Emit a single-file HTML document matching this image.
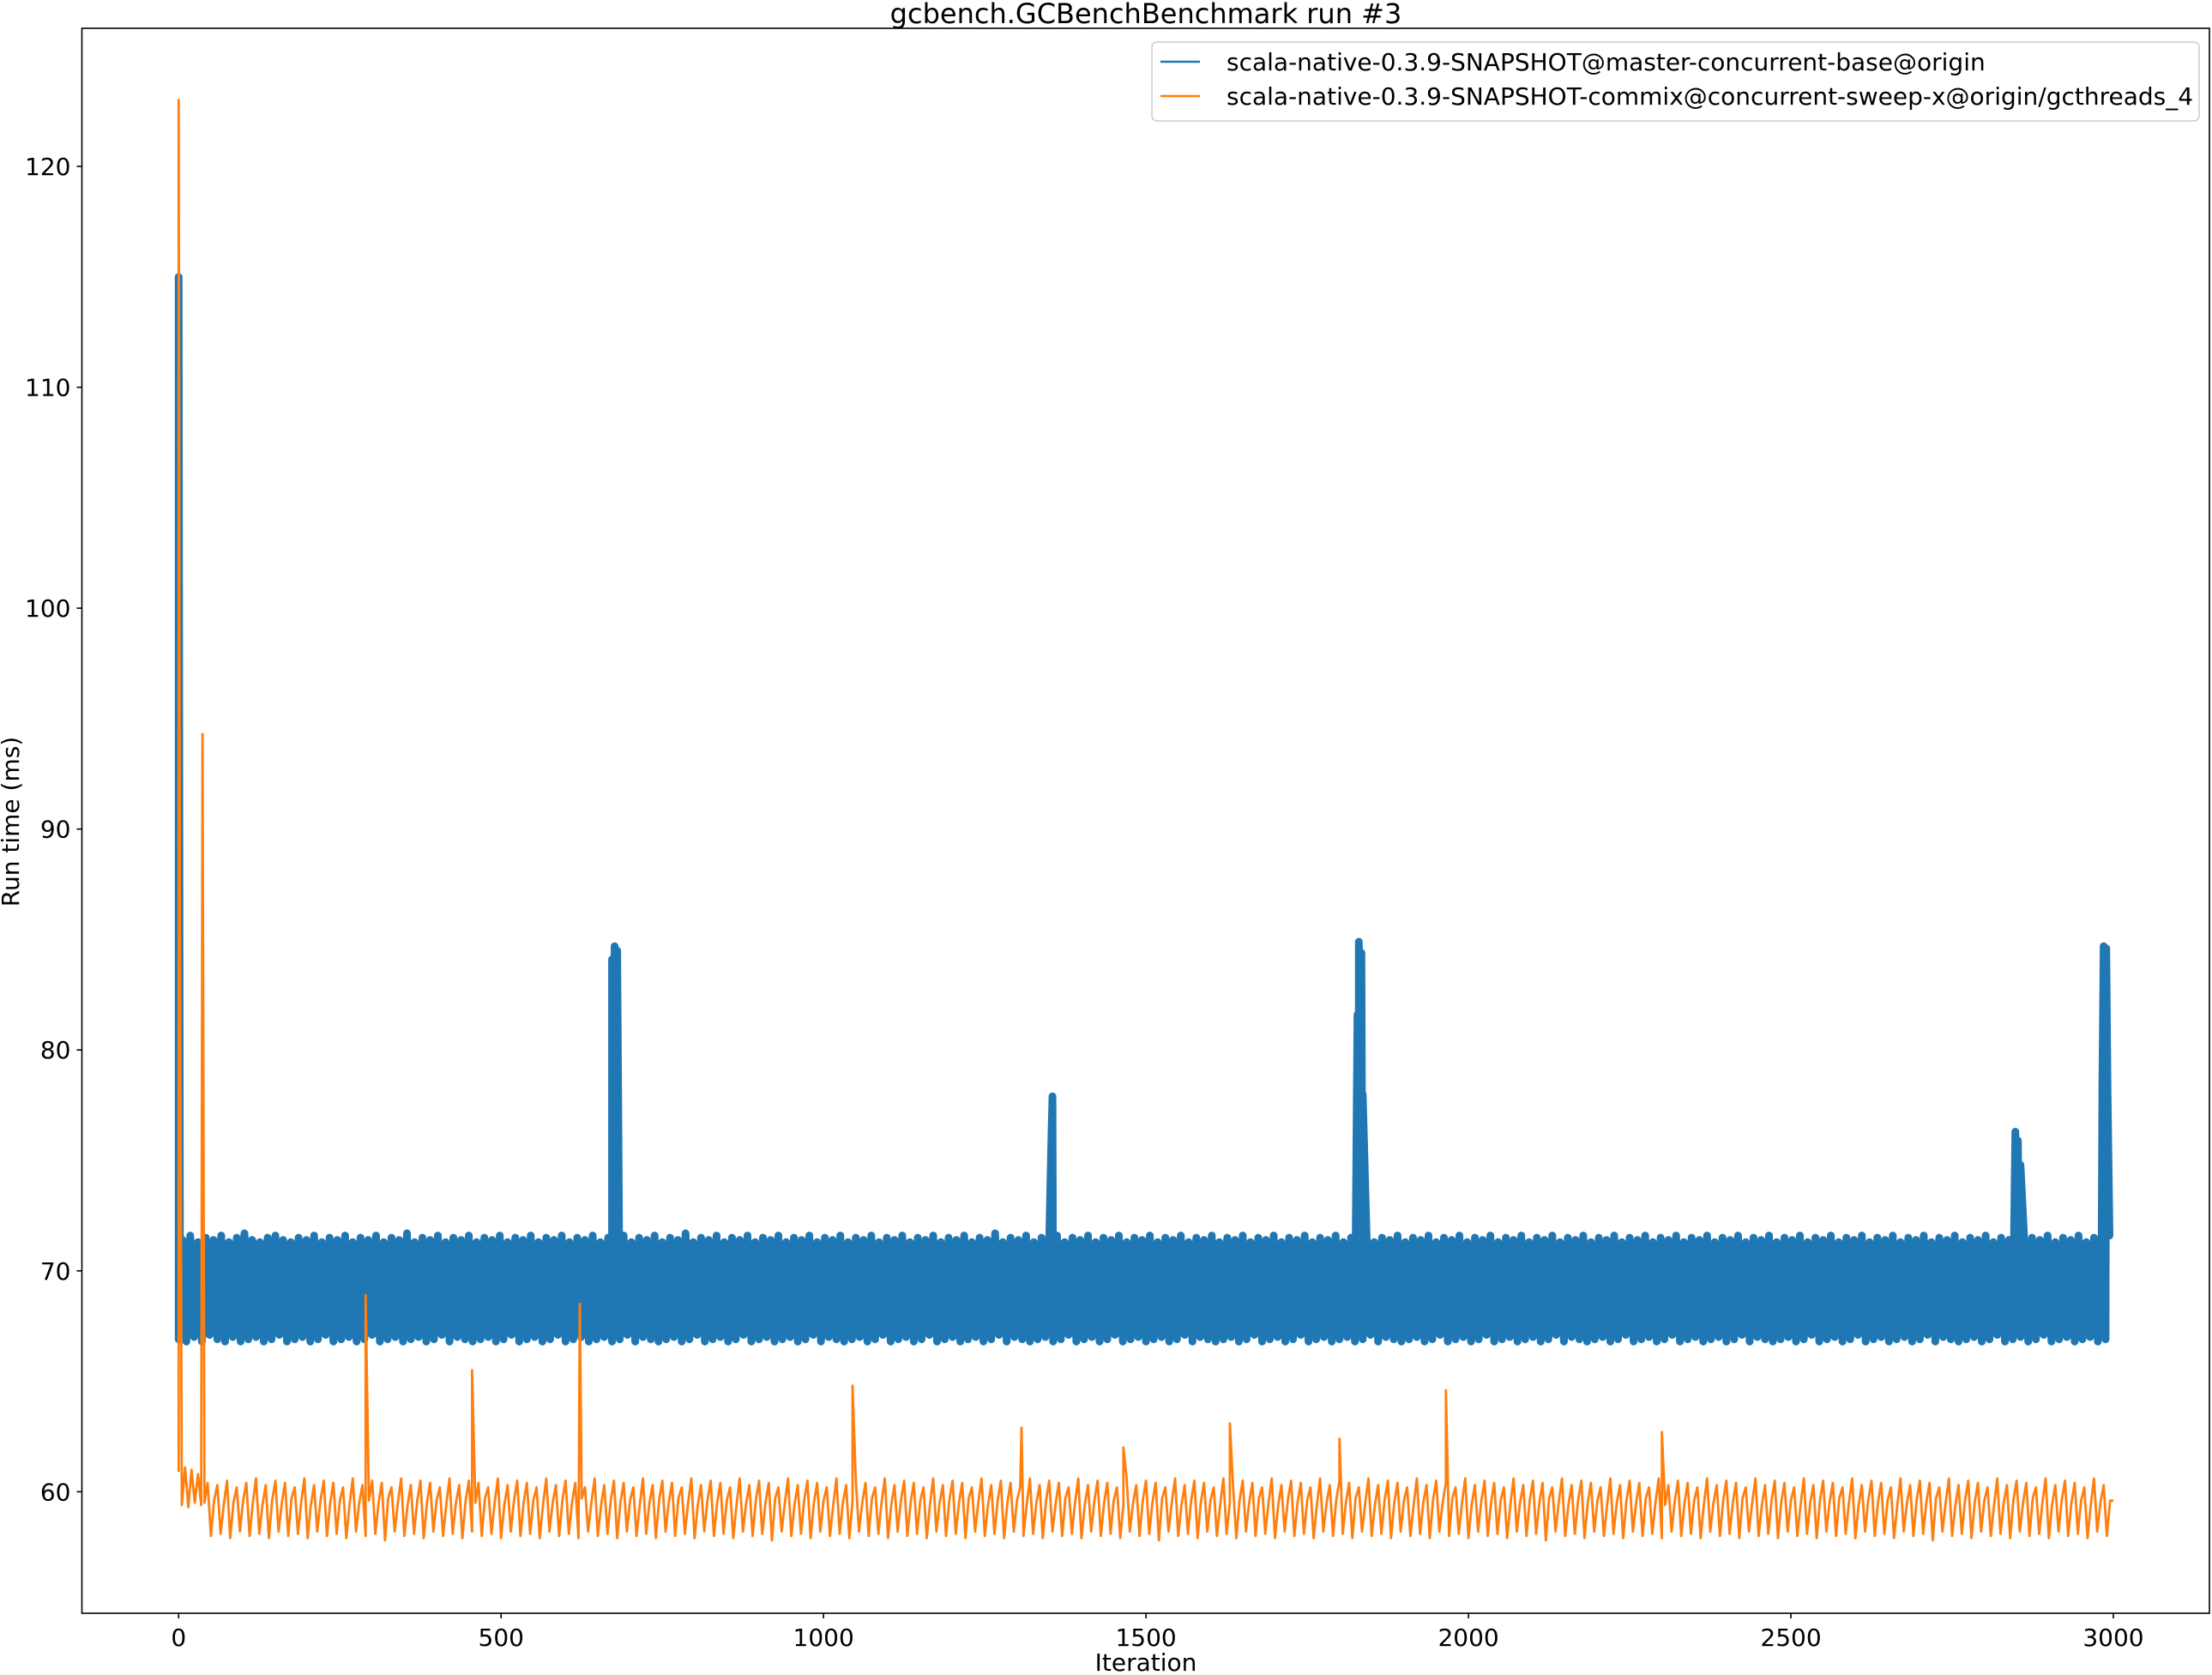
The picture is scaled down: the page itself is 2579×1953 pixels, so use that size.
<!DOCTYPE html>
<html><head><meta charset="utf-8"><style>
html,body{margin:0;padding:0;background:#fff;}
svg{display:block;font-family:"DejaVu Sans","Liberation Sans",sans-serif;}
</style></head><body>
<svg id="chart" width="2579" height="1953" viewBox="0 0 2579 1953"></svg>
<script>
const xTicks=[0,500,1000,1500,2000,2500,3000];
const yTicks=[60,70,80,90,100,110,120];
const seriesNames=["scala-native-0.3.9-SNAPSHOT@master-concurrent-base@origin","scala-native-0.3.9-SNAPSHOT-commix@concurrent-sweep-x@origin/gcthreads_4"];
const blueStep=6;
const blueVals=[
66.9,71.4,66.8,71.6,67.0,71.3,66.8,71.5,67.1,71.4,66.9,71.6,66.8,71.3,67.0,71.5,66.8,71.7,66.9,71.4,
67.0,71.3,66.8,71.5,66.9,71.6,67.1,71.4,66.8,71.3,66.9,71.5,67.0,71.4,66.8,71.6,66.9,71.3,67.1,71.5,
66.8,71.4,66.9,71.6,67.0,71.3,66.8,71.5,66.9,71.4,67.1,71.6,66.8,71.3,66.9,71.5,67.0,71.4,66.8,71.7,
66.9,71.3,67.0,71.5,66.8,71.4,66.9,71.6,67.1,71.3,66.8,71.5,67.0,71.4,66.9,71.6,66.8,71.3,66.9,71.5,
67.0,71.4,66.8,71.6,66.9,71.3,67.1,71.5,66.8,71.4,66.9,71.6,67.0,71.3,66.8,71.5,66.9,71.4,67.1,71.6,
66.8,71.3,66.9,71.5,67.0,71.4,66.8,71.6,66.9,71.3,67.0,71.5,66.8,71.4,66.9,71.6,67.1,71.3,66.8,71.5,
67.0,71.4,66.9,71.6,66.8,71.3,66.9,71.5,67.0,71.4,66.8,71.7,66.9,71.3,67.1,71.5,66.8,71.4,66.9,71.6,
67.0,71.3,66.8,71.5,66.9,71.4,67.1,71.6,66.8,71.3,66.9,71.5,67.0,71.4,66.8,71.6,66.9,71.3,67.0,71.5,
66.8,71.4,66.9,71.6,67.1,71.3,66.8,71.5,67.0,71.4,66.9,71.6,66.8,71.3,66.9,71.5,67.0,71.4,66.8,71.6,
66.9,71.3,67.1,71.5,66.8,71.4,66.9,71.6,67.0,71.3,66.8,71.5,66.9,71.4,67.1,71.6,66.8,71.3,66.9,71.5,
67.0,71.4,66.8,71.6,66.9,71.3,67.0,71.5,66.8,71.4,66.9,71.7,67.1,71.3,66.8,71.5,67.0,71.4,66.9,71.6,
66.8,71.3,66.9,71.5,67.0,71.4,66.8,71.6,66.9,71.3,67.1,71.5,66.8,71.4,66.9,71.6,67.0,71.3,66.8,71.5,
66.9,71.4,67.1,71.6,66.8,71.3,66.9,71.5,67.0,71.4,66.8,71.6,66.9,71.3,67.0,71.5,66.8,71.4,66.9,71.6,
67.1,71.3,66.8,71.5,67.0,71.4,66.9,71.6,66.8,71.3,66.9,71.5,67.0,71.4,66.8,71.6,66.9,71.3,67.1,71.5,
66.8,71.4,66.9,71.6,67.0,71.3,66.8,71.5,66.9,71.4,67.1,71.6,66.8,71.3,66.9,71.5,67.0,71.4,66.8,71.6,
66.9,71.3,67.0,71.5,66.8,71.4,66.9,71.6,67.1,71.3,66.8,71.5,67.0,71.4,66.9,71.6,66.8,71.3,66.9,71.5,
67.0,71.4,66.8,71.6,66.9,71.3,67.1,71.5,66.8,71.4,66.9,71.6,67.0,71.3,66.8,71.5,66.9,71.4,67.1,71.6,
66.8,71.3,66.9,71.5,67.0,71.4,66.8,71.6,66.9,71.3,67.0,71.5,66.8,71.4,66.9,71.6,67.1,71.3,66.8,71.5,
67.0,71.4,66.9,71.6,66.8,71.3,66.9,71.5,67.0,71.4,66.8,71.6,66.9,71.3,67.1,71.5,66.8,71.4,66.9,71.6,
67.0,71.3,66.8,71.5,66.9,71.4,67.1,71.6,66.8,71.3,66.9,71.5,67.0,71.4,66.8,71.6,66.9,71.3,67.0,71.5,
66.8,71.4,66.9,71.6,67.1,71.3,66.8,71.5,67.0,71.4,66.9,71.6,66.8,71.3,66.9,71.5,67.0,71.4,66.8,71.6,
66.9,71.3,67.1,71.5,66.8,71.4,66.9,71.6,67.0,71.3,66.8,71.5,66.9,71.4,67.1,71.6,66.8,71.3,66.9,71.5,
67.0,71.4,66.8,71.6,66.9,71.3,67.0,71.5,66.8,71.4,66.9,71.6,67.1,71.3,66.8,71.5,67.0,71.4,66.9,71.6,
66.8,71.3,66.9,71.5,67.0,71.4,66.8,71.6,66.9,71.3,67.1,71.5,66.8,71.4,66.9,71.6,67.0,71.3,66.8,71.5,
66.9,71.4,67.1,71.6,66.8,71.3,66.9,71.5,67.0,71.4,66.8,71.6,66.9,71.3,67.0,71.5,66.8,71.4,66.9,71.6
];
const blueSpikeIter=[0,2,672,674,676,678,680,1353,1355,1357,1828,1830,1832,1834,1836,2848,2850,2852,2854,2856,2983,2985,2987,2989,2991];
const blueSpikeVal=[115,70,84.1,78.5,84.7,78.2,84.5,75.6,77.9,67.7,81.6,84.9,78.3,84.4,78.0,76.3,69.5,75.9,68.8,74.8,78.4,84.7,78.6,84.6,78.1];
const orangeStep=5;
const orangeVals=[
60.9,59.4,61.1,59.3,61.0,59.5,60.8,59.4,
59.5,60.4,58.0,59.6,60.3,58.1,59.4,60.5,57.9,59.5,60.2,58.2,59.6,60.4,58.0,59.5,60.6,58.1,59.4,60.3,57.9,59.6,60.5,58.2,
59.5,60.4,58.0,59.7,60.2,58.1,59.5,60.6,57.9,59.4,60.3,58.2,59.6,60.5,58.0,59.5,60.4,58.1,59.6,60.2,57.9,59.4,60.6,58.2,
59.5,60.3,58.0,59.6,60.5,58.1,59.5,60.4,57.8,59.7,60.2,58.2,59.5,60.6,58.0,59.4,60.3,58.1,59.6,60.5,57.9,59.5,60.4,58.2,
59.6,60.2,58.0,59.4,60.6,58.1,59.5,60.3,57.9,59.6,60.5,58.2,59.5,60.4,58.0,59.7,60.2,58.1,59.5,60.6,57.9,59.4,60.3,58.2,
59.6,60.5,58.0,59.5,60.4,58.1,59.6,60.2,57.9,59.4,60.6,58.2,59.5,60.3,58.0,59.6,60.5,58.1,59.5,60.4,57.9,59.7,60.2,58.2,
59.5,60.6,58.0,59.4,60.3,58.1,59.6,60.5,57.9,59.5,60.4,58.2,59.6,60.2,58.0,59.4,60.6,58.1,59.5,60.3,57.9,59.6,60.5,58.2,
59.5,60.4,58.0,59.7,60.2,58.1,59.5,60.6,57.9,59.4,60.3,58.2,59.6,60.5,58.0,59.5,60.4,58.1,59.6,60.2,57.9,59.4,60.6,58.2,
59.5,60.3,58.0,59.6,60.5,58.1,59.5,60.4,57.8,59.7,60.2,58.2,59.5,60.6,58.0,59.4,60.3,58.1,59.6,60.5,57.9,59.5,60.4,58.2,
59.6,60.2,58.0,59.4,60.6,58.1,59.5,60.3,57.9,59.6,60.5,58.2,59.5,60.4,58.0,59.7,60.2,58.1,59.5,60.6,57.9,59.4,60.3,58.2,
59.6,60.5,58.0,59.5,60.4,58.1,59.6,60.2,57.9,59.4,60.6,58.2,59.5,60.3,58.0,59.6,60.5,58.1,59.5,60.4,57.9,59.7,60.2,58.2,
59.5,60.6,58.0,59.4,60.3,58.1,59.6,60.5,57.9,59.5,60.4,58.2,59.6,60.2,58.0,59.4,60.6,58.1,59.5,60.3,57.9,59.6,60.5,58.2,
59.5,60.4,58.0,59.7,60.2,58.1,59.5,60.6,57.9,59.4,60.3,58.2,59.6,60.5,58.0,59.5,60.4,58.1,59.6,60.2,57.9,59.4,60.6,58.2,
59.5,60.3,58.0,59.6,60.5,58.1,59.5,60.4,57.8,59.7,60.2,58.2,59.5,60.6,58.0,59.4,60.3,58.1,59.6,60.5,57.9,59.5,60.4,58.2,
59.6,60.2,58.0,59.4,60.6,58.1,59.5,60.3,57.9,59.6,60.5,58.2,59.5,60.4,58.0,59.7,60.2,58.1,59.5,60.6,57.9,59.4,60.3,58.2,
59.6,60.5,58.0,59.5,60.4,58.1,59.6,60.2,57.9,59.4,60.6,58.2,59.5,60.3,58.0,59.6,60.5,58.1,59.5,60.4,57.9,59.7,60.2,58.2,
59.5,60.6,58.0,59.4,60.3,58.1,59.6,60.5,57.9,59.5,60.4,58.2,59.6,60.2,58.0,59.4,60.6,58.1,59.5,60.3,57.9,59.6,60.5,58.2,
59.5,60.4,58.0,59.7,60.2,58.1,59.5,60.6,57.9,59.4,60.3,58.2,59.6,60.5,58.0,59.5,60.4,58.1,59.6,60.2,57.9,59.4,60.6,58.2,
59.5,60.3,58.0,59.6,60.5,58.1,59.5,60.4,57.8,59.7,60.2,58.2,59.5,60.6,58.0,59.4,60.3,58.1,59.6,60.5,57.9,59.5,60.4,58.2,
59.6,60.2,58.0,59.4,60.6,58.1,59.5,60.3,57.9,59.6,60.5,58.2,59.5,60.4,58.0,59.7,60.2,58.1,59.5,60.6,57.9,59.4,60.3,58.2,
59.6,60.5,58.0,59.5,60.4,58.1,59.6,60.2,57.9,59.4,60.6,58.2,59.5,60.3,58.0,59.6,60.5,58.1,59.5,60.4,57.9,59.7,60.2,58.2,
59.5,60.6,58.0,59.4,60.3,58.1,59.6,60.5,57.9,59.5,60.4,58.2,59.6,60.2,58.0,59.4,60.6,58.1,59.5,60.3,57.9,59.6,60.5,58.2,
59.5,60.4,58.0,59.7,60.2,58.1,59.5,60.6,57.9,59.4,60.3,58.2,59.6,60.5,58.0,59.5,60.4,58.1,59.6,60.2,57.9,59.4,60.6,58.2,
59.5,60.3,58.0,59.6,60.5,58.1,59.5,60.4,57.8,59.7,60.2,58.2,59.5,60.6,58.0,59.4,60.3,58.1,59.6,60.5,57.9,59.5,60.4,58.2,
59.6,60.2,58.0,59.4,60.6,58.1,59.5,60.3,57.9,59.6,60.5,58.2,59.5,60.4,58.0,59.7,60.2,58.1,59.5,60.6,57.9,59.4,60.3,58.2,
59.6,60.5,58.0,59.5,60.4,58.1,59.6,60.2,57.9,59.4,60.6,58.2,59.5,60.3,58.0,59.6,
59.6
];
const orangeSpikeIter=[0,2,37,290,455,622,1045,1307,1465,1630,1800,1965,2300];
const orangeSpikeVal=[123,85.3,94.3,68.9,65.5,68.5,64.8,62.9,62.0,63.1,62.4,64.6,62.7];

const svg=document.getElementById('chart');
const NS='http://www.w3.org/2000/svg';
const L=95.5,R=2576,T=33,B=1881;
const xMin=-150,xMax=3149,yMin=54.5,yMax=126.25;
function xs(v){return L+(v-xMin)/(xMax-xMin)*(R-L);}
function ys(v){return B-(v-yMin)/(yMax-yMin)*(B-T);}
function mk(tag,attrs,parent){const e=document.createElementNS(NS,tag);for(const k in attrs)e.setAttribute(k,attrs[k]);(parent||svg).appendChild(e);return e;}
function build(step,vals,si,sv){
  const pts=vals.map((v,i)=>[i*step,v]);
  for(let i=0;i<si.length;i++)pts.push([si[i],sv[i]]);
  pts.sort((a,b)=>a[0]-b[0]);
  return pts.map((p,i)=>(i?'L':'M')+xs(p[0]).toFixed(1)+','+ys(p[1]).toFixed(1)).join('');
}
const clip=mk('clipPath',{id:'plotclip'});
mk('rect',{x:L,y:T,width:R-L,height:B-T},clip);
const blue=mk('path',{d:build(blueStep,blueVals,blueSpikeIter,blueSpikeVal),fill:'none',stroke:'#1f77b4','stroke-width':9,'stroke-linejoin':'round','stroke-linecap':'round','clip-path':'url(#plotclip)'});


const orange=mk('path',{d:build(orangeStep,orangeVals,orangeSpikeIter,orangeSpikeVal),fill:'none',stroke:'#ff7f0e','stroke-width':2.8,'stroke-linejoin':'round','clip-path':'url(#plotclip)'});


const frame=mk('rect',{x:L,y:T,width:R-L,height:B-T,fill:'none',stroke:'#000','stroke-width':1.6});


xTicks.forEach(t=>{
  const x=xs(t);
  const tk=mk('line',{x1:x,x2:x,y1:B,y2:B+6,stroke:'#000','stroke-width':1.6});
  
  
  const tx=mk('text',{x:x,y:B+38,'font-size':28,'text-anchor':'middle',fill:'#000'});
  tx.textContent=t;
  
  
});
yTicks.forEach(t=>{
  const y=ys(t);
  const tk=mk('line',{x1:L-6,x2:L,y1:y,y2:y,stroke:'#000','stroke-width':1.6});
  
  
  const tx=mk('text',{x:L-13,y:y+10,'font-size':28,'text-anchor':'end',fill:'#000'});
  tx.textContent=t;
  
  
});
const title=mk('text',{x:1336,y:27,'font-size':32,'text-anchor':'middle',fill:'#000'});
title.textContent='gcbench.GCBenchBenchmark run #3';


const xl=mk('text',{x:1336,y:1948,'font-size':28,'text-anchor':'middle',fill:'#000'});
xl.textContent='Iteration';


const yl=mk('text',{x:0,y:0,'font-size':28,'text-anchor':'middle',fill:'#000',transform:'translate(22,958) rotate(-90)'});
yl.textContent='Run time (ms)';


const lg=mk('g',{});


mk('rect',{x:1343,y:49,width:1221,height:92,rx:6,fill:'#fff','fill-opacity':0.8,stroke:'#ccc','stroke-width':1.5},lg);
const colors=['#1f77b4','#ff7f0e'];
seriesNames.forEach((n,i)=>{
  const y=72+i*40;
  const e=mk('g',{},lg);
  
  
  mk('line',{x1:1353,x2:1399,y1:y,y2:y,stroke:colors[i],'stroke-width':2.6},e);
  const t=mk('text',{x:1430,y:y+10,'font-size':28,fill:'#000'},e);
  t.textContent=n;
});
</script>
</body></html>
